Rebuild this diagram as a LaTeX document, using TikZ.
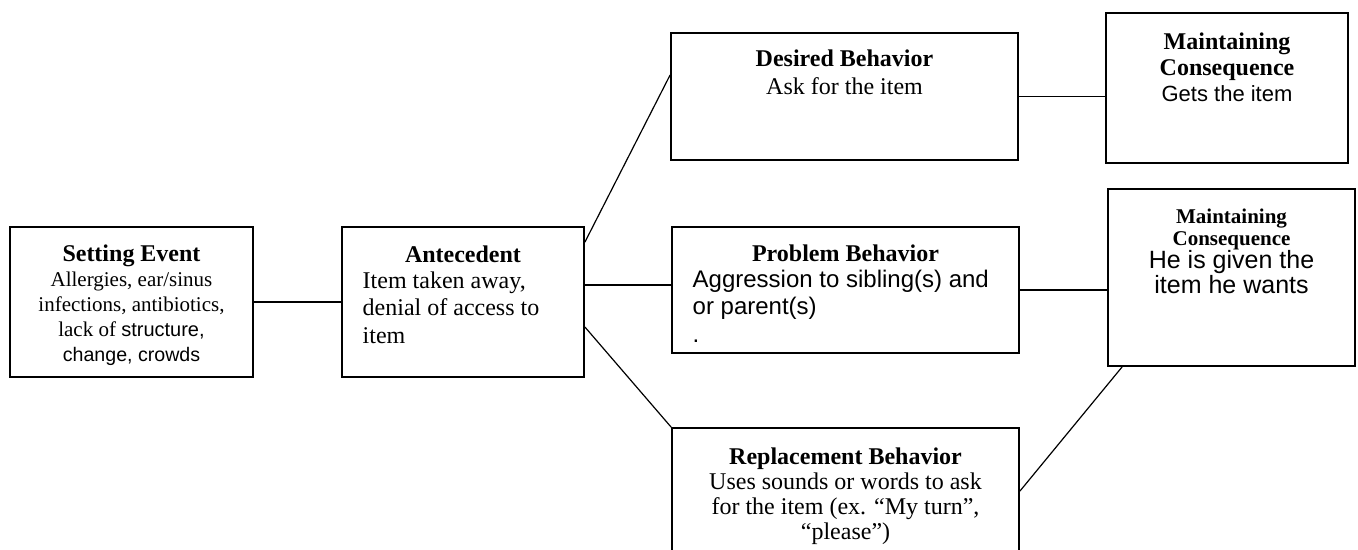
\documentclass[tikz,border=0pt]{standalone}
\usepackage{fontspec}
\setmainfont{Liberation Serif}
\setsansfont{Liberation Sans}
\usetikzlibrary{positioning,calc}

\begin{document}
\begin{tikzpicture}[
x=0.5pt, y=-0.5pt, line width=0.6pt,
font=\fontsize{12}{13.8}\selectfont,
box-node/.style = {rectangle, draw=black, line width=0.9pt, inner sep=0pt},
text-node/.style = {inner sep=0pt, anchor=north, align=center},
left-node/.style = {inner sep=0pt, anchor=north west, align=left}
]
\clip (0,0) rectangle (1358,550);

% boxes
\node [box-node, minimum width=121.5pt, minimum height=75pt] (setting) at (131.5,302) {};
\node [box-node, minimum width=121pt, minimum height=75pt] (antecedent) at (463,302) {};
\node [box-node, minimum width=173.5pt, minimum height=63.5pt] (desired) at (844.5,96.5) {};
\node [box-node, minimum width=173.5pt, minimum height=63pt] (problem) at (845.5,290) {};
\node [box-node, minimum width=173.5pt, minimum height=86pt] (replacement) at (845.5,514) {};
\node [box-node, minimum width=121pt, minimum height=75pt] (consequence1) at (1227,88) {};
\node [box-node, minimum width=123.5pt, minimum height=88.5pt] (consequence2) at (1231.5,277.5) {};

% labels
\node [text-node, font=\fontsize{10.5}{12.5}\selectfont] (setting-text) at ([yshift=-9pt]setting.north)
  {{\fontsize{12}{12.5}\selectfont\bfseries Setting Event}\\ Allergies, ear/sinus\\ infections, antibiotics,\\
   lack of {\sffamily\fontsize{10}{12.5}\selectfont structure,}\\ {\sffamily\fontsize{9.8}{12.5}\selectfont change, crowds}};
\node [text-node] (antecedent-title) at ([yshift=-9.5pt]antecedent.north) {\textbf{Antecedent}};
\node [left-node] (antecedent-text) at ([xshift=10.5pt, yshift=-22.5pt]antecedent.north west)
  {Item taken away,\\ denial of access to\\ item};
\node [text-node, font=\fontsize{12}{14}\selectfont] (desired-text) at ([yshift=-8.5pt]desired.north)
  {\textbf{Desired Behavior}\\ Ask for the item};
\node [text-node] (problem-title) at ([yshift=-9pt]problem.north) {\textbf{Problem Behavior}};
\node [left-node, font=\sffamily\fontsize{12}{13.8}\selectfont] (problem-text) at ([xshift=10.5pt, yshift=-21.5pt]problem.north west)
  {Aggression to sibling(s) and\\ or parent(s)\\ .};
\node [text-node, font=\fontsize{12}{12.5}\selectfont] (replacement-text) at ([yshift=-10pt]replacement.north)
  {\textbf{Replacement Behavior}\\ Uses sounds or words to ask\\ for the item (ex. “My turn”,\\ “please”)};
\node [text-node, font=\fontsize{12}{13}\selectfont] (consequence1-text) at ([yshift=-10pt]consequence1.north)
  {\textbf{Maintaining}\\ \textbf{Consequence}\\ {\sffamily\fontsize{11}{13}\selectfont Gets the item}};
\node [text-node, font=\fontsize{12}{11.3}\selectfont] (consequence2-text) at ([yshift=-10pt]consequence2.north)
  {{\fontsize{10.5}{11}\selectfont\bfseries Maintaining}\\ {\fontsize{10.5}{11}\selectfont\bfseries Consequence}\\
   {\sffamily\fontsize{12.5}{11.3}\selectfont He is given the}\\ {\sffamily\fontsize{12.5}{11.3}\selectfont item he wants}};

% lines
\draw (setting) -- (antecedent);
\draw ([yshift=-8pt]antecedent.north east) -- ([yshift=10.75pt]desired.west);
\draw ([yshift=8.5pt]antecedent.east) -- ([yshift=2.5pt]problem.west);
\draw ([yshift=-12.5pt]antecedent.east) -- (replacement.north west);
\draw (desired.east) -- (desired.east -| consequence1.west);
\draw (problem.east) -- (problem.east -| consequence2.west);
\draw ([yshift=-32pt]replacement.north east) -- ([xshift=7.5pt]consequence2.south west);

\end{tikzpicture}
\end{document}
